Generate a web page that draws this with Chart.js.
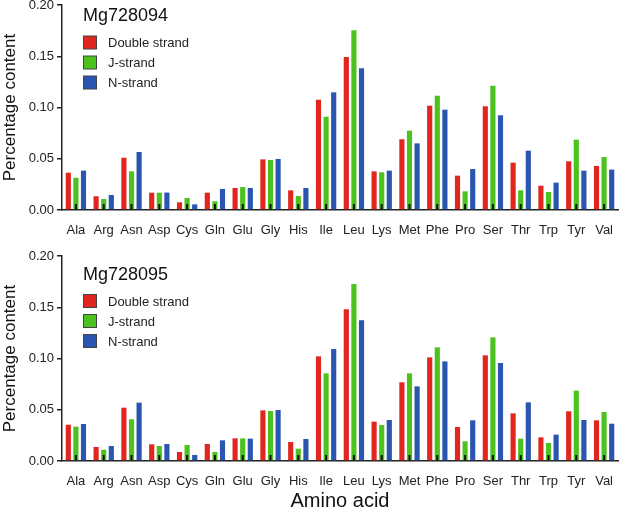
<!DOCTYPE html>
<html>
<head>
<meta charset="utf-8">
<script src="https://cdn.jsdelivr.net/npm/chart.js@4"></script>
<style>
  body { margin: 0; background: #fff; }
  canvas { position: absolute; left: 0; }
</style>
</head>
<body>
<canvas id="chartTop" width="621" height="245" style="top:0"></canvas>
<canvas id="chartBottom" width="621" height="268" style="top:245px"></canvas>
<script>
// amino acids on the x axis
const aminoAcids = ["Ala", "Arg", "Asn", "Asp", "Cys", "Gln", "Glu", "Gly", "His", "Ile",
    "Leu", "Lys", "Met", "Phe", "Pro", "Ser", "Thr", "Trp", "Tyr", "Val"];
const yTicks = [0, 0.05, 0.10, 0.15, 0.20];
const seriesNames = ["Double strand", "J-strand", "N-strand"];
const seriesColors = ["#e0261f", "#4cc21f", "#2a55b0"];

// Mg728094
const doubleA = [0.0364, 0.0134, 0.0510, 0.0169, 0.0075, 0.0169, 0.0215, 0.0494, 0.0192, 0.1076,
    0.1493, 0.0377, 0.0690, 0.1018, 0.0335, 0.1012, 0.0462, 0.0237, 0.0475, 0.0430];
const jA = [0.0315, 0.0107, 0.0377, 0.0169, 0.0117, 0.0085, 0.0224, 0.0488, 0.0137, 0.0910,
    0.1753, 0.0368, 0.0774, 0.1115, 0.0182, 0.1213, 0.0192, 0.0176, 0.0686, 0.0517];
const nA = [0.0384, 0.0146, 0.0566, 0.0170, 0.0055, 0.0205, 0.0215, 0.0498, 0.0215, 0.1148,
    0.1382, 0.0384, 0.0650, 0.0979, 0.0400, 0.0924, 0.0579, 0.0267, 0.0384, 0.0394];

// Mg728095
const doubleB = [0.0354, 0.0137, 0.0520, 0.0163, 0.0088, 0.0166, 0.0221, 0.0494, 0.0185, 0.1021,
    0.1480, 0.0384, 0.0768, 0.1011, 0.0332, 0.1031, 0.0465, 0.0231, 0.0485, 0.0397];
const jB = [0.0335, 0.0110, 0.0407, 0.0146, 0.0156, 0.0088, 0.0221, 0.0488, 0.0120, 0.0855,
    0.1727, 0.0351, 0.0855, 0.1109, 0.0192, 0.1206, 0.0218, 0.0176, 0.0686, 0.0478];
const nB = [0.0361, 0.0146, 0.0569, 0.0166, 0.0059, 0.0202, 0.0218, 0.0498, 0.0215, 0.1093,
    0.1372, 0.0400, 0.0728, 0.0972, 0.0397, 0.0956, 0.0572, 0.0257, 0.0400, 0.0364];

const fontFamily = "'Liberation Sans', Arial, sans-serif";

// small inward ticks, title and legend drawn on top
const decorPlugin = {
    id: "decor",
    afterDatasetsDraw(chart, args, opts) {
        const c = chart.ctx;
        const xs = chart.scales.x;
        const bottom = chart.chartArea.bottom;
        c.save();
        c.fillStyle = "#111";
        aminoAcids.forEach((a, i) => {
            const px = xs.getPixelForValue(i);
            c.fillRect(px - 1, bottom - 6, 2, 6);
        });
        c.fillStyle = "#111";
        c.font = "18px " + fontFamily;
        c.textBaseline = "middle";
        c.fillText(opts.title, 83, opts.titleY);
        chart.data.datasets.forEach((ds, i) => {
            const y = opts.legendY + i * 20;
            c.fillStyle = ds.backgroundColor;
            c.fillRect(83.5, y - 6.5, 13, 13);
            c.strokeStyle = "#444";
            c.lineWidth = 1;
            c.strokeRect(83.5, y - 6.5, 13, 13);
            c.fillStyle = "#222";
            c.font = "13px " + fontFamily;
            c.fillText(ds.label, 108, y + 1);
        });
        c.restore();
    }
};

function createChart(id, series, title, titleY, legendY, padTop, xHeight, showXTitle) {
    const ctx = document.getElementById(id);
    return new Chart(ctx, {
        type: "bar",
        data: {
            labels: aminoAcids,
            datasets: series.map((vals, i) => ({
                label: seriesNames[i],
                data: vals,
                backgroundColor: seriesColors[i],
                borderWidth: 0,
                categoryPercentage: 0.82,
                barPercentage: 0.68
            }))
        },
        options: {
            responsive: false,
            animation: false,
            layout: { padding: { top: padTop, right: 3, left: 0, bottom: 0 } },
            plugins: {
                legend: { display: false },
                tooltip: { enabled: false },
                decor: { title: title, titleY: titleY, legendY: legendY }
            },
            scales: {
                x: {
                    grid: { display: false },
                    border: { display: true, color: "#222", width: 1.5 },
                    ticks: { color: "#222", font: { family: fontFamily, size: 13 }, padding: 5, maxRotation: 0, autoSkip: false },
                    title: { display: showXTitle, text: "Amino acid", color: "#111", font: { family: fontFamily, size: 20 }, padding: { top: 5, bottom: 0 } },
                    afterFit: (s) => { s.height = xHeight; }
                },
                y: {
                    min: 0,
                    max: 0.20,
                    afterBuildTicks: (s) => { s.ticks = yTicks.map((v) => ({ value: v })); },
                    grid: { drawOnChartArea: false, drawTicks: true, tickLength: 5, color: "#222", lineWidth: 1.5 },
                    border: { display: true, color: "#222", width: 1.5 },
                    ticks: { color: "#222", font: { family: fontFamily, size: 13 }, padding: 3,
                        callback: (v) => Number(v).toFixed(2) },
                    title: { display: true, text: "Percentage content", color: "#111", font: { family: fontFamily, size: 17 }, padding: 0 },
                    afterFit: (s) => { s.width = 62; s.paddingTop = 0; s.paddingBottom = 0; }
                }
            }
        },
        plugins: [decorPlugin]
    });
}

createChart("chartTop", [doubleA, jA, nA], "Mg728094", 16, 42.5, 5, 35, false);
createChart("chartBottom", [doubleB, jB, nB], "Mg728095", 30, 56, 11, 52, true);
</script>
</body>
</html>
